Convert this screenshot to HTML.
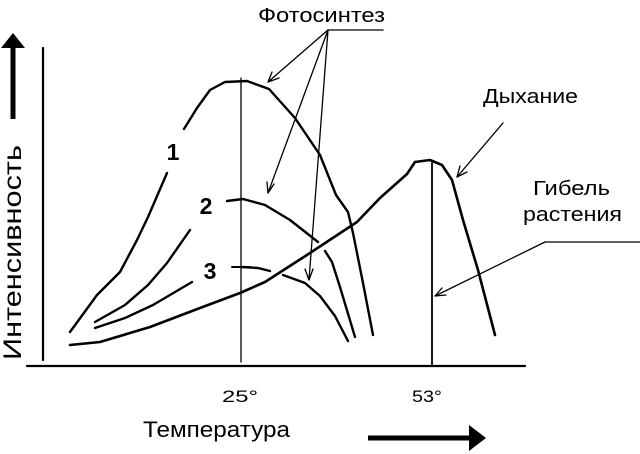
<!DOCTYPE html>
<html><head><meta charset="utf-8"><style>
html,body{margin:0;padding:0;background:#fff;}
svg{display:block;}
text{font-family:"Liberation Sans",sans-serif;fill:#000;}
</style></head><body>
<svg width="640" height="454" viewBox="0 0 640 454" xmlns="http://www.w3.org/2000/svg">
<g fill="none" stroke="#000" stroke-linejoin="round" stroke-linecap="round">
<line x1="43" y1="48" x2="43" y2="360" stroke-width="2.2"/>
<line x1="27" y1="366" x2="525" y2="366" stroke-width="2.2"/>
<line x1="241" y1="78" x2="241" y2="362" stroke-width="1.3"/>
<line x1="432" y1="163" x2="432" y2="366" stroke-width="1.8"/>
<polyline stroke-width="2.4" points="70,332 97,295 120,272 137,240 148,217 167,173"/>
<polyline stroke-width="2.4" points="184,129 197,108 210,90 225,82 247,81 269,89 295,118 320,155 336,195 348,212 353,233 363,283 373,335"/>
<polyline stroke-width="2.4" points="95,322 125,305 148,285 167,263 190,230"/>
<polyline stroke-width="2.4" points="227,201 243,199 265,205 290,220 318,242"/>
<polyline stroke-width="2.4" points="325,251 332,262 340,287 355,337"/>
<polyline stroke-width="2.4" points="95,328 125,318 153,305 192,282"/>
<polyline stroke-width="2.4" points="242,267 258,268 270,271"/>
<line x1="232" y1="267" x2="250" y2="267" stroke-width="2"/>
<polyline stroke-width="2.4" points="283,275 305,283 320,296 335,316 348,341"/>
<polyline stroke-width="2.6" points="70,345 100,342 150,327 200,308 240,293 265,282 310,253 357,222 380,198 407,174 415,162 430,160 442,165 452,180 463,220 478,270 495,335"/>
<g stroke-width="1.3">
<line x1="328" y1="30" x2="383" y2="30"/>
<line x1="328" y1="30" x2="268" y2="82"/>
<polyline points="272,72 268,82 279,78"/>
<line x1="328" y1="30" x2="268" y2="193"/>
<polyline points="267,182 268,193 274,184"/>
<line x1="328" y1="30" x2="309" y2="280"/>
<polyline points="305,269 309,280 313,269"/>
<line x1="503" y1="123" x2="457" y2="177"/>
<polyline points="460,166 457,177 467,172"/>
<line x1="545" y1="242" x2="640" y2="242"/>
<line x1="545" y1="242" x2="435" y2="296"/>
<polyline points="442,288 435,296 446,295"/>
</g>
</g>
<rect x="10.5" y="44" width="5" height="75" fill="#000"/>
<polygon points="13,33 1,48 25,48" fill="#000"/>
<rect x="368" y="435.5" width="104" height="5" fill="#000"/>
<polygon points="486,438 469,425 469,451" fill="#000"/>
<text x="258" y="22" font-size="20" textLength="127" lengthAdjust="spacingAndGlyphs">Фотосинтез</text>
<text x="483" y="103" font-size="20" textLength="95" lengthAdjust="spacingAndGlyphs">Дыхание</text>
<text x="533" y="195" font-size="20" textLength="77" lengthAdjust="spacingAndGlyphs">Гибель</text>
<text x="523" y="221" font-size="20" textLength="99" lengthAdjust="spacingAndGlyphs">растения</text>
<text x="173" y="160" font-size="23" font-weight="bold" text-anchor="middle">1</text>
<text x="206" y="214" font-size="23" font-weight="bold" text-anchor="middle">2</text>
<text x="210" y="279" font-size="23" font-weight="bold" text-anchor="middle">3</text>
<text x="222" y="402" font-size="17" textLength="36" lengthAdjust="spacingAndGlyphs">25°</text>
<text x="412" y="402" font-size="17" textLength="30" lengthAdjust="spacingAndGlyphs">53°</text>
<text x="143" y="437" font-size="22" textLength="147" lengthAdjust="spacingAndGlyphs">Температура</text>
<text transform="translate(21,360) rotate(-90)" font-size="25" textLength="215" lengthAdjust="spacingAndGlyphs">Интенсивность</text>
</svg>
</body></html>
